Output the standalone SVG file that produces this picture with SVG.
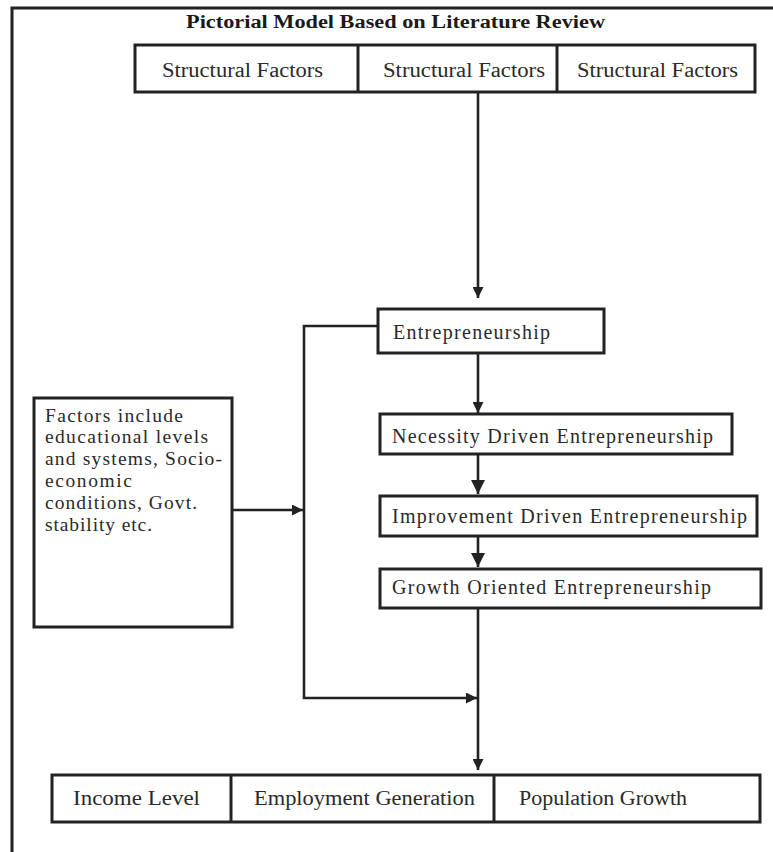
<svg xmlns="http://www.w3.org/2000/svg" width="773" height="852" viewBox="0 0 773 852">
<style>
.box{fill:#fff;stroke:#222;stroke-width:3}
.ln{fill:none;stroke:#222;stroke-width:2.6}
.t{font-family:"Liberation Serif","Times New Roman",serif;font-size:20px;fill:#2a2a2a}
.tl{font-family:"Liberation Serif","Times New Roman",serif;font-size:19.5px;fill:#2a2a2a}
.tc{font-family:"Liberation Serif","Times New Roman",serif;font-size:20px;fill:#2a2a2a}
.title{font-family:"Liberation Serif","Times New Roman",serif;font-size:18px;font-weight:bold;fill:#1a1a1a}
</style>
<defs>
<marker id="ah" viewBox="0 0 10 10" refX="10" refY="5" markerWidth="11" markerHeight="11" markerUnits="userSpaceOnUse" orient="auto">
<path d="M0,0 L10,5 L0,10 Z" fill="#222"/>
</marker>
<marker id="ahb" viewBox="0 0 10 10" refX="10" refY="5" markerWidth="14" markerHeight="14" markerUnits="userSpaceOnUse" orient="auto">
<path d="M0,0 L10,5 L0,10 Z" fill="#222"/>
</marker>
</defs>
<rect width="773" height="852" fill="#fff"/>
<g id="frame">
<path class="ln" d="M12,852 V8 H773" style="stroke-width:3"/>
</g>
<text class="title" x="186" y="28" textLength="419" lengthAdjust="spacingAndGlyphs">Pictorial Model Based on Literature Review</text>
<g id="structural">
<rect class="box" x="135" y="45" width="620" height="47"/>
<line class="ln" x1="358" y1="45" x2="358" y2="92" style="stroke-width:3"/>
<line class="ln" x1="557" y1="45" x2="557" y2="92" style="stroke-width:3"/>
<text class="tc" x="162" y="77" textLength="161" lengthAdjust="spacingAndGlyphs">Structural Factors</text>
<text class="tc" x="383" y="77" textLength="162" lengthAdjust="spacingAndGlyphs">Structural Factors</text>
<text class="tc" x="577" y="77" textLength="161" lengthAdjust="spacingAndGlyphs">Structural Factors</text>
</g>
<g id="entrepreneurship">
<rect class="box" x="378" y="309" width="226" height="44"/>
<text class="t" x="393" y="339" textLength="157" lengthAdjust="spacing">Entrepreneurship</text>
</g>
<g id="necessity">
<rect class="box" x="380" y="414" width="352" height="40"/>
<text class="t" x="392" y="443" textLength="321" lengthAdjust="spacing">Necessity Driven Entrepreneurship</text>
</g>
<g id="improvement">
<rect class="box" x="380" y="496" width="377" height="40"/>
<text class="t" x="392" y="523" textLength="355" lengthAdjust="spacing">Improvement Driven Entrepreneurship</text>
</g>
<g id="growth">
<rect class="box" x="380" y="569" width="381" height="39"/>
<text class="t" x="392" y="594" textLength="319" lengthAdjust="spacing">Growth Oriented Entrepreneurship</text>
</g>
<g id="factors">
<rect class="box" x="34" y="398" width="198" height="229"/>
<text class="tl" x="45" y="422" textLength="138" lengthAdjust="spacing">Factors include</text>
<text class="tl" x="45" y="443" textLength="163" lengthAdjust="spacing">educational levels</text>
<text class="tl" x="45" y="465" textLength="177" lengthAdjust="spacing">and systems, Socio-</text>
<text class="tl" x="45" y="487" textLength="87" lengthAdjust="spacing">economic</text>
<text class="tl" x="45" y="509" textLength="152" lengthAdjust="spacing">conditions, Govt.</text>
<text class="tl" x="45" y="531" textLength="107" lengthAdjust="spacing">stability etc.</text>
</g>
<g id="outcomes">
<rect class="box" x="52" y="775" width="708" height="47"/>
<line class="ln" x1="231" y1="775" x2="231" y2="822" style="stroke-width:3"/>
<line class="ln" x1="494" y1="775" x2="494" y2="822" style="stroke-width:3"/>
<text class="tc" x="73" y="805" textLength="127" lengthAdjust="spacingAndGlyphs">Income Level</text>
<text class="tc" x="254" y="805" textLength="221" lengthAdjust="spacingAndGlyphs">Employment Generation</text>
<text class="tc" x="519" y="805" textLength="168" lengthAdjust="spacingAndGlyphs">Population Growth</text>
</g>
<g id="connectors">
<line class="ln" x1="478" y1="92" x2="478" y2="298" marker-end="url(#ah)"/>
<line class="ln" x1="478" y1="353" x2="478" y2="413" marker-end="url(#ah)"/>
<line class="ln" x1="478" y1="454" x2="478" y2="494" marker-end="url(#ahb)"/>
<line class="ln" x1="478" y1="536" x2="478" y2="567" marker-end="url(#ahb)"/>
<line class="ln" x1="232" y1="510" x2="303" y2="510" marker-end="url(#ah)"/>
<path class="ln" d="M378,326 H304 V698 H477" marker-end="url(#ah)"/>
<line class="ln" x1="478" y1="608" x2="478" y2="770" marker-end="url(#ah)"/>
</g>
</svg>
